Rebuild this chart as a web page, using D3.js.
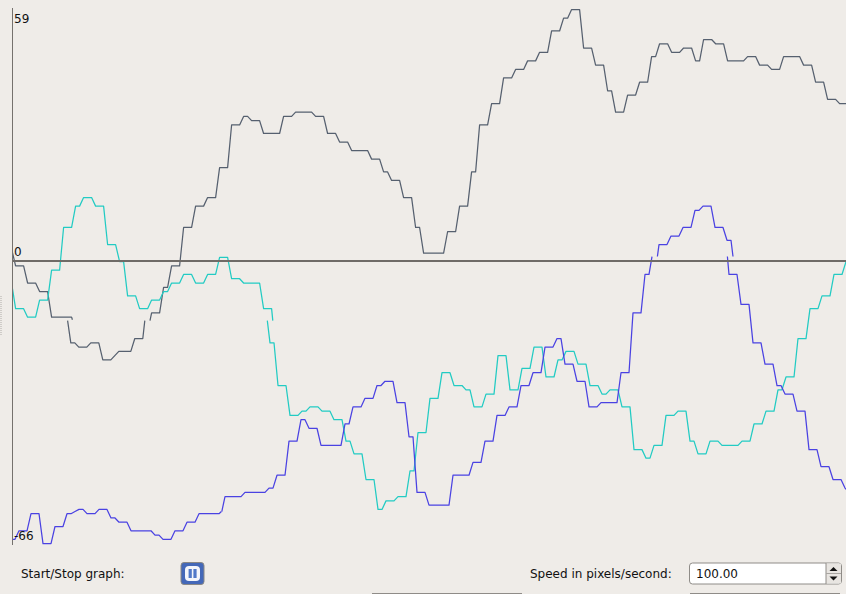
<!DOCTYPE html>
<html><head><meta charset="utf-8">
<script src="https://cdn.jsdelivr.net/npm/d3@7/dist/d3.min.js"></script>
<style>
html,body{margin:0;padding:0;background:#efece8;overflow:hidden}
svg{display:block}
text{font-family:"DejaVu Sans",sans-serif;font-size:12px;fill:#111}
</style></head><body>
<svg id="c" width="846" height="594"></svg>
<script>
// Sample index (t) and integer value (v) at every corner of each trace.
const dark1T=[0,1,3,4,6,7,9,10,15,15.2];
const dark1V=[3,-1,-1,-5,-5,-7,-7,-13,-13,-13.6];
const dark2T=[14.2,15,16,17,19,20,22,23,25,26,27,28,30,31,33,33.5];
const dark2V=[-13.8,-19,-19,-20,-20,-19,-19,-23,-23,-22,-21,-21,-21,-18,-18,-13.8];
const dark3T=[34.6,35,37,38,39,40,42,43,45,46,48,49,51,52,54,55,57,58,59,60,62,63,67,68,70,71,75,76,78,79,81,82,84,85,89,90,92,93,94,95,97,98,100,101,102,103,108,109,111,112,114,115,116,117,119,120,122,123,125,126,128,129,131,132,134,135,137,138,139,140,142,143,145,146,148,149,150,151,153,154,156,157,159,160,161,162,164,165,167,168,170,171,172,173,175,176,178,179,183,184,186,187,189,190,192,193,197,198,200,201,203,204,206,207,209];
const dark3V=[-13.8,-12,-12,-6,-6,-1,-1,8,8,13,13,15,15,22,22,32,32,34,34,33,33,30,30,34,34,35,35,34,34,30,30,28,28,26,26,24,24,21,21,19,19,15,15,8,8,2,2,7,7,13,13,21,21,32,32,37,37,43,43,45,45,47,47,49,49,54,54,57,57,59,59,50,50,46,46,40,40,35,35,39,39,42,42,48,48,51,51,49,49,50,50,47,47,52,52,51,51,47,47,48,48,46,46,45,45,48,48,46,46,42,42,38,38,37,37];

const teal1T=[0,1,3,4,6,7,9,10,12,13,15,16,17,18,20,21,23,24,26,27,28,29,31,32,34,35,37,38,39,40,42,43,45,46,48,49,51,52,54,55,57,58,62,63,65,65.3];
const teal1V=[-5,-11,-11,-13,-13,-9,-9,-2,-2,8,8,13,13,15,15,13,13,4,4,0,0,-8,-8,-11,-11,-9,-9,-7,-7,-5,-5,-3,-3,-5,-5,-3,-3,1,1,-4,-4,-5,-5,-11,-11,-13.8];
const teal2T=[64.33,65,66,67,69,70,72,73,74,75,77,78,80,81,83,84,85,86,88,89,91,92,93,94,96,97,99,100,101,102,104,105,107,108,110,111,113,114,115,116,118,119,121,122,124,125,127,128,130,131,133,134,136,137,138,139,141,142,144,145,147,148,149,150,152,153,155,156,158,159,160,161,163,164,166,167,169,170,171,172,174,175,177,178,182,183,185,186,188,189,191,192,193,194,196,197,199,200,202,203,205,206,208,209];
const teal2V=[-13.8,-19,-19,-29,-29,-36,-36,-35,-35,-34,-34,-35,-35,-37,-37,-42,-42,-45,-45,-51,-51,-58,-58,-56,-56,-55,-55,-49,-49,-40,-40,-32,-32,-26,-26,-29,-29,-30,-30,-34,-34,-31,-31,-22,-22,-30,-30,-25,-25,-20,-20,-27,-27,-23,-23,-21,-21,-24,-24,-29,-29,-31,-31,-30,-30,-34,-34,-44,-44,-46,-46,-43,-43,-36,-36,-35,-35,-42,-42,-45,-45,-42,-42,-43,-43,-42,-42,-38,-38,-35,-35,-30,-30,-27,-27,-18,-18,-11,-11,-8,-8,-3,-3,0];

const blue1T=[0,1,2,4,5,7,8,10,11,13,14,15,16,17,18,19,21,22,24,25,26,27,29,30,35,36,37,38,40,41,43,44,46,47,52,52.6];
const blue1V=[-65,-65,-63,-63,-59,-59,-66,-66,-62,-62,-59,-59,-58.5,-58,-58,-59,-59,-58,-58,-60,-60,-61,-61,-63,-63,-64,-64,-65,-65,-63,-63,-61,-61,-59,-59,-58.5];
const blue2T=[53.2,54,58,59,64,65,66,67,69,70,72,73,74,75,77,78,83,84,85,86,88,89,91,92,93,94,96,97,99,100,101,102,104,105,110,111,115,116,118,119,121,122,124,125,127,128,130,131,133,134,136,137,138,139,141,142,144,145,147,148,152,153,155,156,158,159,160,160.75];
const blue2V=[-58.5,-55,-55,-54,-54,-53,-53,-50,-50,-42,-42,-37,-37,-39,-39,-43,-43,-38,-38,-34,-34,-32,-32,-29,-29,-28,-28,-33,-33,-41,-41,-54,-54,-57,-57,-50,-50,-47,-47,-42,-42,-36,-36,-34,-34,-29,-29,-26,-26,-20,-20,-18,-18,-24,-24,-28,-28,-34,-34,-33,-33,-26,-26,-12,-12,-3,-3,1.2];
const blue3T=[161.6,162,164,165,167,168,170,171,172,173,175,176,178,179,180,180.5];
const blue3V=[1.2,4,4,6,6,8,8,12,12,13,13,8,8,5,5,1.2];
const blue4T=[179.6,180,182,183,185,186,188,189,191,192,193,194,196,197,199,200,202,203,205,206,208,209,210];
const blue4V=[1.2,-3,-3,-10,-10,-19,-19,-24,-24,-29,-29,-31,-31,-35,-35,-44,-44,-48,-48,-51,-51,-53,-54];

// Horizontal lag of each strip of the trace, in samples.
const darkLag=[0,0.2,0];
const tealLag=[0,0.4];
const blueLag=[0.15,0.65,0.15,0.65];

const darkColor="#56606f", tealColor="#22cbc3", blueColor="#4a42e2";
const tickValues=[59,0,-66];
const tickLabels=["59","0","-66"];
const tickShift=[13,-6,-4];

const startLabel="Start/Stop graph:";
const speedLabel="Speed in pixels/second:";
const speedValue="100.00";

const svg=d3.select("#c");
const x=d3.scaleLinear().domain([0,209]).range([11.6,847.6]);
const y=d3.scaleLinear().domain([-66,59]).range([543.6,9.6]);
const line=d3.line();

const defs=svg.append("defs");
defs.append("clipPath").attr("id","plot").append("rect")
  .attr("x",12.5).attr("y",0).attr("width",834).attr("height",550);

const plot=svg.append("g").attr("clip-path","url(#plot)");
function trace(T,V,lag,color){
  plot.append("path")
    .attr("d",line(T.map((t,i)=>[x(t-lag),y(V[i])])))
    .attr("fill","none").attr("stroke",color).attr("stroke-width",1.25)
    .attr("stroke-linejoin","round");
}
trace(dark1T,dark1V,darkLag[0],darkColor);
trace(dark2T,dark2V,darkLag[1],darkColor);
trace(dark3T,dark3V,darkLag[2],darkColor);
trace(teal1T,teal1V,tealLag[0],tealColor);
trace(teal2T,teal2V,tealLag[1],tealColor);
trace(blue1T,blue1V,blueLag[0],blueColor);
trace(blue2T,blue2V,blueLag[1],blueColor);
trace(blue3T,blue3V,blueLag[2],blueColor);
trace(blue4T,blue4V,blueLag[3],blueColor);

// zero line and vertical axis
const zeroY=Math.floor(y(0));
svg.append("line").attr("x1",12.5).attr("x2",846).attr("y1",zeroY).attr("y2",zeroY)
  .attr("stroke","#6f6b67").attr("stroke-width",2);
svg.append("line").attr("x1",12.5).attr("x2",12.5).attr("y1",8).attr("y2",545)
  .attr("stroke","#75716d").attr("stroke-width",1);

tickValues.forEach((v,i)=>{
  svg.append("text").attr("x",14).attr("y",y(v)+tickShift[i]).text(tickLabels[i]);
});

// pane-splitter grip at the left edge
const grip=svg.append("g");
d3.range(296,335,2).forEach(g=>grip.append("line")
  .attr("x1",0).attr("x2",2).attr("y1",g+.5).attr("y2",g+.5).attr("stroke","#cfccc8"));

// controls
svg.append("text").attr("x",21).attr("y",578).text(startLabel);
svg.append("text").attr("x",530).attr("y",578).text(speedLabel);

const btn=svg.append("g");
btn.append("rect").attr("x",181).attr("y",562.5).attr("width",23).attr("height",22).attr("rx",3)
  .attr("fill","#4468b8").attr("stroke","#8a8884");
btn.append("rect").attr("x",185).attr("y",566).attr("width",15).attr("height",15).attr("rx",4)
  .attr("fill","#f4f6fb");
btn.append("rect").attr("x",188.6).attr("y",569).attr("width",3.2).attr("height",9).attr("fill","#5078c8");
btn.append("rect").attr("x",193.4).attr("y",569).attr("width",3.2).attr("height",9).attr("fill","#5078c8");

const spin=svg.append("g");
spin.append("rect").attr("x",689.5).attr("y",563).attr("width",152).attr("height",21).attr("rx",3)
  .attr("fill","#fff").attr("stroke","#8f8c88");
spin.append("rect").attr("x",826).attr("y",563.5).attr("width",15).attr("height",20).attr("fill","#e8e5e1");
spin.append("line").attr("x1",826).attr("x2",826).attr("y1",563).attr("y2",584).attr("stroke","#8f8c88");
spin.append("line").attr("x1",826).attr("x2",841).attr("y1",573.5).attr("y2",573.5).attr("stroke","#a8a5a1");
spin.append("path").attr("d","M829.5 571 L833.5 567 L837.5 571 Z").attr("fill","#111");
spin.append("path").attr("d","M829.5 576.5 L837.5 576.5 L833.5 580.5 Z").attr("fill","#111");
svg.append("text").attr("x",696).attr("y",578).text(speedValue);

// tops of the widgets cut off by the window edge
svg.append("line").attr("x1",372).attr("x2",522).attr("y1",593.5).attr("y2",593.5).attr("stroke","#8f8c88");
svg.append("line").attr("x1",690).attr("x2",840).attr("y1",593.5).attr("y2",593.5).attr("stroke","#8f8c88");
</script></body></html>
